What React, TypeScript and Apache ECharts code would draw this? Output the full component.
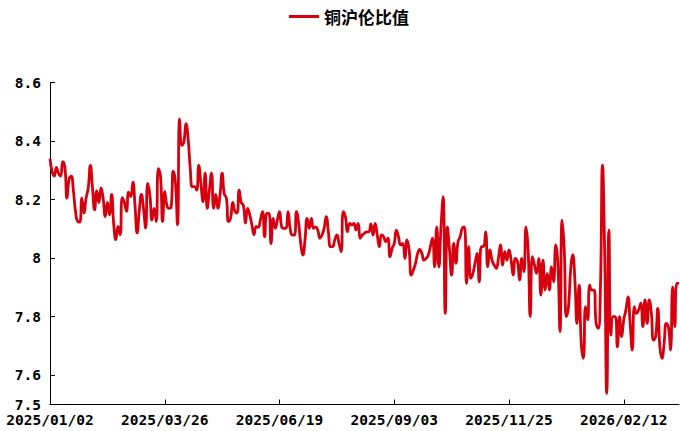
import React, { useEffect, useRef } from "react";
import * as echarts from "echarts";

const seriesName = "铜沪伦比值";

// trading-day calendar used for the category axis
const startDate = "2025-01-02";
const pointCount = 297;
const holidays = [
  "2025-01-28", "2025-01-29", "2025-01-30", "2025-01-31", "2025-02-03",
  "2025-04-04", "2025-04-07", "2025-05-01", "2025-05-02", "2025-05-05", "2025-05-30", "2025-06-02",
  "2025-10-01", "2025-10-02", "2025-10-03", "2025-10-06", "2025-10-07",
  "2025-12-25", "2026-01-01", "2026-01-02",
  "2026-02-16", "2026-02-17", "2026-02-18", "2026-02-19", "2026-02-20", "2026-02-23",
];

// ratio values
const ratioPart1 = [
  8.34, 8.295, 8.28, 8.31, 8.29, 8.28, 8.33, 8.31, 8.205, 8.27,
  8.28, 8.23, 8.16, 8.125, 8.123, 8.205, 8.154, 8.205, 8.24, 8.317,
  8.24, 8.165, 8.23, 8.19, 8.24, 8.205, 8.142, 8.19, 8.148, 8.218,
  8.114, 8.063, 8.108, 8.08, 8.207, 8.19, 8.16, 8.225, 8.21, 8.26,
  8.18, 8.086, 8.16, 8.218, 8.17, 8.103, 8.255, 8.216, 8.13, 8.17,
  8.125, 8.306, 8.28, 8.125, 8.227, 8.18, 8.17, 8.175, 8.297, 8.26,
  8.114, 8.476, 8.385, 8.397, 8.459, 8.408, 8.306, 8.244, 8.244, 8.232,
  8.317, 8.255, 8.193, 8.29, 8.17, 8.232, 8.29, 8.17, 8.218, 8.17,
  8.216, 8.29, 8.22, 8.205, 8.125, 8.137, 8.19, 8.16, 8.154, 8.232,
  8.19, 8.18, 8.12, 8.17, 8.148, 8.114, 8.08, 8.108, 8.105,
];
const ratioPart2 = [
  8.13, 8.159, 8.073, 8.153, 8.153, 8.05, 8.136, 8.102, 8.13, 8.159,
  8.107, 8.102, 8.102, 8.159, 8.102, 8.079, 8.079, 8.159, 8.119, 8.05,
  8.01, 8.062, 8.136, 8.102, 8.136, 8.102, 8.107, 8.096, 8.068, 8.079,
  8.102, 8.142, 8.09, 8.039, 8.039, 8.062, 8.079, 8.05, 8.022, 8.159,
  8.142, 8.09, 8.119, 8.113, 8.119, 8.096, 8.119, 8.068, 8.079, 8.085,
  8.09, 8.09, 8.117, 8.079, 8.119, 8.079, 8.039, 8.079, 8.073, 8.056,
  8.068, 8.005, 8.033, 8.05, 8.096, 8.073, 8.045, 8.05, 7.999, 8.062,
  8.028, 7.942, 7.959, 7.982, 8.016, 8.03, 8.016, 7.993, 7.999, 8.01,
  8.039, 8.068, 7.97, 8.107, 7.97, 8.107, 8.21, 7.811, 8.107, 8.028,
  7.942, 8.05, 7.982, 8.056, 8.073, 8.102, 8.107,
];
const ratioPart3 = [
  7.914, 8.039, 7.931, 7.948, 7.982, 8.016, 7.919, 8.039, 8.039, 8.09,
  7.97, 8.028, 7.993, 7.976, 7.965, 7.999, 8.045, 7.976, 8.022, 7.993,
  8.028, 7.993, 7.942, 7.999, 7.988, 7.925, 7.999, 7.954, 8.107, 8.028,
  7.8, 8.005, 7.976, 7.948, 7.999, 7.874, 7.993, 7.891, 7.948, 7.891,
  7.97, 7.919, 8.045, 7.982, 7.749, 8.13, 8.028, 7.8, 7.834, 7.959,
  8.011, 7.925, 7.777, 7.908, 7.709, 7.658, 7.834, 7.789, 7.908, 7.891,
  7.891, 7.777, 7.76, 7.891, 8.318, 8.028, 7.538, 8.096, 7.737, 7.8,
  7.8, 7.697, 7.8, 7.732, 7.789, 7.823, 7.868, 7.777, 7.686, 7.834,
  7.811, 7.823, 7.846, 7.766, 7.857, 7.777, 7.857, 7.811, 7.72, 7.732,
  7.828, 7.697, 7.658, 7.709, 7.777, 7.766, 7.686, 7.902, 7.766, 7.914,
  7.914,
];

// y axis: 7.5 is the axis floor, the labelled ticks run 7.6 … 8.6 every 0.2
const yFloor = 7.5;
const yTickStart = 7.6;
const yMax = 8.6;
const yInterval = 0.2;
const labelEvery = 54;

function buildDates(): string[] {
  const hol = new Set(holidays);
  const out: string[] = [];
  const [y, m, d] = startDate.split("-").map(Number);
  let t = Date.UTC(y, m - 1, d);
  while (out.length < pointCount) {
    const dt = new Date(t);
    const wd = dt.getUTCDay();
    const yy = dt.getUTCFullYear();
    const mm = String(dt.getUTCMonth() + 1).padStart(2, "0");
    const dd = String(dt.getUTCDate()).padStart(2, "0");
    if (wd !== 0 && wd !== 6 && !hol.has(`${yy}-${mm}-${dd}`)) {
      out.push(`${yy}/${mm}/${dd}`);
    }
    t += 86400000;
  }
  return out;
}

const W = 680;
const H = 431;
const GRID_LEFT = 50;
const GRID_RIGHT = 1;
const GRID_TOP = 82.5;
const GRID_BOTTOM = 26.5;

export default function App() {
  const ref = useRef<HTMLDivElement>(null);
  useEffect(() => {
    if (!ref.current) return;
    const chart = echarts.init(ref.current, null, { renderer: "svg" });
    const dates = buildDates();
    const values = [...ratioPart1, ...ratioPart2, ...ratioPart3];
    const axisFont = {
      fontFamily: "'DejaVu Sans Mono', monospace",
      fontWeight: "bold" as const,
      fontSize: 14.5,
      color: "#000",
    };
    const plotH = H - GRID_TOP - GRID_BOTTOM;
    const tickGridBottom = GRID_BOTTOM + ((yTickStart - yFloor) / (yMax - yFloor)) * plotH;
    chart.setOption({
      animation: false,
      backgroundColor: "#fff",
      legend: {
        show: true,
        left: 284,
        top: 3,
        icon: "rect",
        itemWidth: 30,
        itemHeight: 3,
        itemGap: 10,
        textStyle: {
          fontFamily: "'Noto Sans CJK SC', sans-serif",
          fontWeight: "bold",
          fontSize: 17,
          color: "#000",
        },
        data: [seriesName],
      },
      grid: [
        { left: GRID_LEFT, right: GRID_RIGHT, top: GRID_TOP, bottom: GRID_BOTTOM, containLabel: false },
        { left: GRID_LEFT, right: GRID_RIGHT, top: GRID_TOP, bottom: tickGridBottom, containLabel: false },
      ],
      xAxis: [
        {
          type: "category",
          gridIndex: 0,
          data: dates,
          boundaryGap: false,
          axisLine: { show: true, lineStyle: { color: "#000", width: 1 } },
          axisTick: { show: true, inside: true, interval: labelEvery - 1, length: 5, lineStyle: { color: "#000" } },
          axisLabel: { ...axisFont, interval: labelEvery - 1, margin: 8 },
          splitLine: { show: false },
        },
        {
          type: "category",
          gridIndex: 1,
          data: dates,
          boundaryGap: false,
          show: false,
        },
      ],
      yAxis: [
        {
          type: "value",
          gridIndex: 0,
          min: yFloor,
          max: yMax,
          interval: yMax - yFloor,
          axisLine: { show: true, lineStyle: { color: "#000", width: 1 } },
          axisTick: { show: false },
          axisLabel: {
            ...axisFont,
            margin: 9,
            formatter: (v: number) => (Math.abs(v - yFloor) < 1e-9 ? String(yFloor) : ""),
          },
          splitLine: { show: false },
        },
        {
          type: "value",
          gridIndex: 1,
          min: yTickStart,
          max: yMax,
          interval: yInterval,
          axisLine: { show: false },
          axisTick: { show: true, inside: true, length: 5, lineStyle: { color: "#000" } },
          axisLabel: { ...axisFont, margin: 9 },
          splitLine: { show: false },
        },
      ],
      series: [
        {
          name: seriesName,
          type: "line",
          xAxisIndex: 0,
          yAxisIndex: 0,
          data: values,
          showSymbol: false,
          symbol: "none",
          smooth: true,
          lineStyle: { color: "#D7000F", width: 2.8 },
          itemStyle: { color: "#D7000F" },
        },
      ],
    });
    return () => chart.dispose();
  }, []);
  return (
    <div
      ref={ref}
      style={{ position: "fixed", left: 0, top: 0, width: W, height: H, background: "#fff" }}
    />
  );
}
